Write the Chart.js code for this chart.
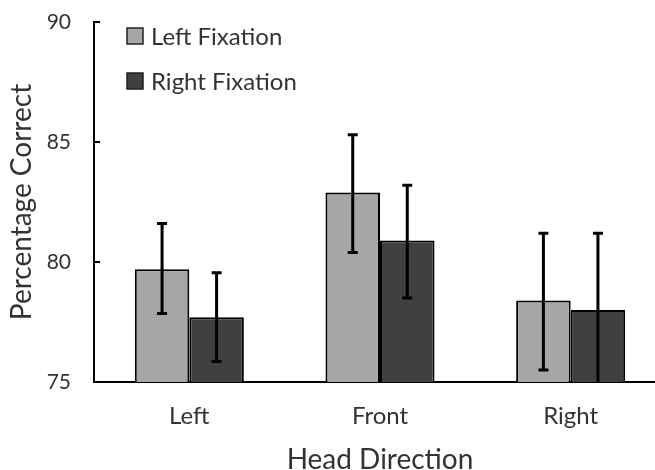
<!DOCTYPE html>
<html lang="en">
<head>
<meta charset="UTF-8">
<title>Head Direction</title>
<script src="https://cdn.jsdelivr.net/npm/chart.js"></script>
<style>
  html, body { margin: 0; padding: 0; background: #fff; overflow: hidden; }
</style>
</head>
<body>
<canvas id="chart" width="666" height="470"></canvas>
<script>
// data
var categories = ['Left', 'Front', 'Right'];
var leftFixation = [79.7, 82.9, 78.4];
var rightFixation = [77.7, 80.9, 78.0];
var leftFixLow = [77.85, 80.4, 75.5];
var leftFixHigh = [81.6, 85.3, 81.2];
var rightFixLow = [75.85, 78.5, 74.8];
var rightFixHigh = [79.55, 83.2, 81.2];
var yTicks = [75, 80, 85, 90];

var textColor = '#333';
var fontFamily = 'Lato, "Open Sans", sans-serif';

// error bars, drawn through the y scale
var errorBars = {
    id: 'errorBars',
    afterDatasetsDraw: function(chart) {
        var ctx = chart.ctx;
        var y = chart.scales.y;
        var area = chart.chartArea;
        ctx.save();
        ctx.beginPath();
        ctx.rect(area.left, area.top - 10, area.right - area.left, area.bottom - area.top + 10);
        ctx.clip();
        ctx.strokeStyle = '#000';
        ctx.lineWidth = 3;
        chart.data.datasets.forEach(function(ds, di) {
            var meta = chart.getDatasetMeta(di);
            meta.data.forEach(function(bar, i) {
                var top = y.getPixelForValue(ds.high[i]);
                var bot = y.getPixelForValue(ds.low[i]);
                ctx.beginPath();
                ctx.moveTo(bar.x, top);
                ctx.lineTo(bar.x, bot);
                ctx.moveTo(bar.x - 5, top);
                ctx.lineTo(bar.x + 5, top);
                ctx.moveTo(bar.x - 5, bot);
                ctx.lineTo(bar.x + 5, bot);
                ctx.stroke();
            });
        });
        ctx.restore();
    }
};

// tick marks point into the plot
var innerTicks = {
    id: 'innerTicks',
    afterDraw: function(chart) {
        var ctx = chart.ctx;
        var y = chart.scales.y;
        var left = chart.chartArea.left;
        ctx.save();
        ctx.strokeStyle = '#000';
        ctx.lineWidth = 2;
        yTicks.forEach(function(v) {
            var py = y.getPixelForValue(v);
            ctx.beginPath();
            ctx.moveTo(left - 1, py);
            ctx.lineTo(left + 6, py);
            ctx.stroke();
        });
        ctx.restore();
    }
};

// legend in the top left of the plot
var boxLegend = {
    id: 'boxLegend',
    afterDraw: function(chart) {
        var ctx = chart.ctx;
        var x0 = chart.chartArea.left + 33;
        var y0 = chart.chartArea.top + 14;
        ctx.save();
        ctx.font = '24px ' + fontFamily;
        ctx.textBaseline = 'middle';
        chart.data.datasets.forEach(function(ds, i) {
            var cy = y0 + i * 45;
            ctx.fillStyle = ds.backgroundColor;
            ctx.fillRect(x0, cy - 8, 16, 16);
            ctx.strokeStyle = '#222';
            ctx.lineWidth = 1.5;
            ctx.strokeRect(x0, cy - 8, 16, 16);
            ctx.fillStyle = textColor;
            ctx.fillText(ds.label, x0 + 24, cy + 1);
        });
        ctx.restore();
    }
};

new Chart(document.getElementById('chart'), {
    type: 'bar',
    data: {
        labels: categories,
        datasets: [{
            label: 'Left Fixation',
            data: leftFixation,
            low: leftFixLow,
            high: leftFixHigh,
            backgroundColor: '#a6a6a6',
            borderColor: '#000',
            borderWidth: 2,
            borderSkipped: false
        }, {
            label: 'Right Fixation',
            data: rightFixation,
            low: rightFixLow,
            high: rightFixHigh,
            backgroundColor: '#404040',
            borderColor: '#000',
            borderWidth: 2,
            borderSkipped: false
        }]
    },
    options: {
        responsive: false,
        animation: false,
        devicePixelRatio: 1,
        barPercentage: 1,
        categoryPercentage: 0.572,
        layout: { padding: { top: 22, left: 0, right: 0, bottom: 0 } },
        plugins: {
            legend: { display: false },
            tooltip: { enabled: false }
        },
        scales: {
            x: {
                grid: { display: false, drawTicks: false },
                border: { display: true, color: '#000', width: 2 },
                ticks: { color: textColor, padding: 20, font: { family: fontFamily, size: 24 } },
                title: {
                    display: true,
                    text: 'Head Direction',
                    color: textColor,
                    padding: { top: 0, bottom: -7 },
                    font: { family: fontFamily, size: 28 }
                },
                afterFit: function(scale) { scale.height = 88; }
            },
            y: {
                min: 75,
                max: 90,
                grid: { display: false, drawTicks: false },
                border: { display: true, color: '#000', width: 2 },
                afterBuildTicks: function(scale) {
                    scale.ticks = yTicks.map(function(v) { return { value: v }; });
                },
                ticks: { color: textColor, padding: 23, font: { family: fontFamily, size: 21 } },
                title: {
                    display: true,
                    text: 'Percentage Correct',
                    color: textColor,
                    padding: { top: 5, bottom: 0 },
                    font: { family: fontFamily, size: 28 }
                },
                afterFit: function(scale) {
                    scale.width = 94;
                    scale.paddingTop = 0;
                    scale.paddingBottom = 0;
                }
            }
        }
    },
    plugins: [errorBars, innerTicks, boxLegend]
});
</script>
</body>
</html>
